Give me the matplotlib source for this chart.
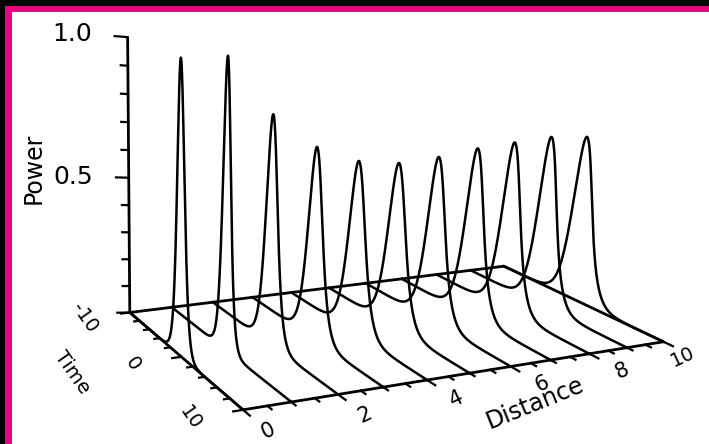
import numpy as np
import matplotlib
matplotlib.use("Agg")
import matplotlib.pyplot as plt
from matplotlib.patches import Rectangle

# pulse parameters, one entry per distance step
distance = [0, 1, 2, 3, 4, 5, 6, 7, 8, 9, 10]
peak_power = [1.0, 1.0, 0.80, 0.68, 0.62, 0.60, 0.61, 0.63, 0.64, 0.65, 0.64]
pulse_fwhm = [1.5, 1.5, 2.1, 2.5, 2.75, 2.85, 2.8, 2.75, 2.7, 2.65, 2.7]
pulse_centre = [-0.1, -0.1, 0.0, 0.1, 0.1, 0.0, 0.0, 0.0, -0.1, -0.1, -0.1]

power_labels = [0.5, 1.0]
time_labels = [-10, 0, 10]
distance_labels = [0, 2, 4, 6, 8, 10]

W, H = 709, 444
fig = plt.figure(figsize=(W / 100, H / 100), dpi=100, facecolor="black")
# magenta frame and white sheet behind the plot
fig.add_artist(Rectangle((5 / W, 0), 1, 1 - 6 / H, transform=fig.transFigure,
                         facecolor="#e6057f", edgecolor="none", zorder=0))
fig.add_artist(Rectangle((12 / W, 0), 1, 1 - 12 / H, transform=fig.transFigure,
                         facecolor="white", edgecolor="none", zorder=0))

ax = fig.add_axes([0.12771, -0.12274, 0.84486, 1.34911], projection="3d")
ax.set_facecolor("none")
ax.set_axis_off()
ax.set_xlim(0, 10)
ax.set_ylim(10, -10)
ax.set_zlim(0, 1)
ax.set_box_aspect((1.6069, 1.0441, 1.0))
ax.view_init(elev=13.032, azim=-119.184, roll=-1.934)
ax.set_proj_type("persp", focal_length=0.463)

M = ax.get_proj()


def label(d, t, p, s, rot=0, size=14, **kw):
    # put a flat 2D text at the projected spot of a (distance, time, power) point
    v = M @ np.array([d, t, p, 1.0])
    ax.text2D(v[0] / v[3], v[1] / v[3], s, transform=ax.transData,
              rotation=rot, fontsize=size, family="DejaVu Sans",
              ha=kw.pop("ha", "center"), va=kw.pop("va", "center"), **kw)


kw = dict(color="black", lw=2.0, solid_capstyle="butt")
tick_kw = dict(color="black", lw=1.6)

# floor outline
ax.plot([0, 10], [-10, -10], [0, 0], **kw)
ax.plot([10, 10], [-10, 10], [0, 0], **kw)
ax.plot([0, 10], [10, 10], [0, 0], **kw)
ax.plot([0, 0], [-10, 10], [0, 0], **kw)
# power axis
ax.plot([0, 0], [-10, -10], [0, 1], **kw)

# power ticks (horizontal, pointing left)
for p in np.arange(0, 1.01, 0.1):
    k = 0.29 if round(p * 10) % 5 == 0 else 0.16
    ax.plot([0, -k], [-10, -10], [p, p + 0.017 * k], **tick_kw)
for p in power_labels:
    label(-0.8, -10, p + 0.014, f"{p:.1f}", size=18, ha="right")
label(-2.1, -10, 0.56, "Power", rot=90, size=17)

# time ticks along the left floor edge
for t in range(-10, 11, 2):
    k = 0.2 if t in time_labels else 0.12
    ax.plot([0, -k], [t, t], [0, 0], **tick_kw)
for t in time_labels:
    label(-1.05, t, 0, str(t), rot=-55, size=14)
label(-2.3, 0, 0, "Time", rot=-55, size=14)

# distance ticks along the front floor edge
for d in np.arange(0, 10.01, 0.5):
    k = 1.0 if d in distance_labels else 0.6
    ax.plot([d, d], [10, 10 + k], [0, 0], **tick_kw)
for d in distance_labels:
    if d == 10:
        label(9.75, 13, 0, str(d), rot=25, size=14)
    else:
        label(d, 13.5, 0, str(d), rot=25, size=15)
label(5.3, 16, 0, "Distance", rot=22, size=17)

# the pulses, one sech^2 trace per distance
t = np.linspace(-10, 10, 1601)
for d, p0, fw, c in zip(distance, peak_power, pulse_fwhm, pulse_centre):
    t0 = fw / 1.7627
    power = p0 / np.cosh((t - c) / t0) ** 2
    ax.plot(np.full_like(t, d), t, power, color="black", lw=1.8)

fig.savefig("out.png", dpi=100, facecolor=fig.get_facecolor())
